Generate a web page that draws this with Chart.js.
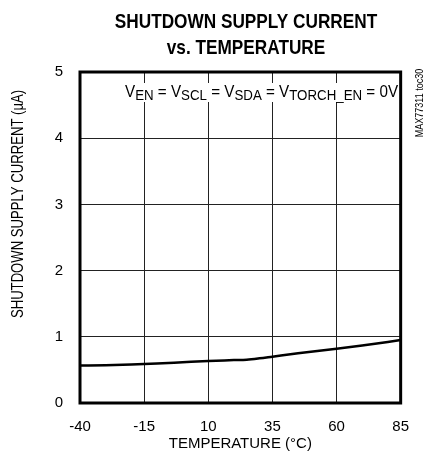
<!DOCTYPE html>
<html>
<head>
<meta charset="utf-8">
<script src="https://cdn.jsdelivr.net/npm/chart.js@4"></script>
<style>
  html, body { margin: 0; padding: 0; background: #fff; }
  #wrap { width: 424px; height: 463px; }
</style>
</head>
<body>
<div id="wrap"><canvas id="grafico" width="424" height="463"></canvas></div>
<script>
// dados
const temperaturas = [-40, -30, -20, -10, 0, 10, 20, 25, 30, 35, 45, 60, 70, 85];
const correntes = [0.565, 0.57, 0.58, 0.595, 0.615, 0.635, 0.648, 0.655, 0.675, 0.70, 0.75, 0.82, 0.87, 0.95];
const ticksX = [-40, -15, 10, 35, 60, 85];
const ticksY = [0, 1, 2, 3, 4, 5];
const titulo = ['SHUTDOWN SUPPLY CURRENT', 'vs. TEMPERATURE'];
const tituloX = 'TEMPERATURE (°C)';
const tituloY = 'SHUTDOWN SUPPLY CURRENT (µA)';
const codigo = 'MAX77311 toc30';
// partes da condicao de teste: [texto, subscrito?]
const condicao = [['V', false], ['EN', true], [' = V', false], ['SCL', true], [' = V', false], ['SDA', true],
                  [' = V', false], ['TORCH_EN', true], [' = 0V', false]];

const fonte = "'Liberation Sans', Arial, sans-serif";
const estreito = 0.82; // fator para imitar fonte "narrow"

// escreve texto comprimido na horizontal
function textoEstreito(ctx, txt, x, y, rot, fator) {
    ctx.save();
    ctx.translate(x, y);
    if (rot) ctx.rotate(rot);
    ctx.scale(fator || estreito, 1);
    ctx.fillText(txt, 0, 0);
    ctx.restore();
}

// plugin para titulo, textos extras e moldura grossa
const extras = {
    id: 'extras',
    afterDraw(chart) {
        const ctx = chart.ctx;
        const area = chart.chartArea;
        ctx.save();
        ctx.fillStyle = '#000';
        ctx.textBaseline = 'alphabetic';

        // titulo
        ctx.font = 'bold 21px ' + fonte;
        ctx.textAlign = 'center';
        const cx = 246;
        textoEstreito(ctx, titulo[0], cx, 28);
        textoEstreito(ctx, titulo[1], cx, 54);

        // titulo do eixo y
        ctx.font = '16px ' + fonte;
        textoEstreito(ctx, tituloY, 23, 204, -Math.PI / 2);

        // codigo lateral
        ctx.font = '10px ' + fonte;
        textoEstreito(ctx, codigo, 423, 103, -Math.PI / 2, 0.9);

        // condicao de teste com fundo branco
        const fc = 0.95;
        let larg = 0;
        condicao.forEach(p => {
            ctx.font = (p[1] ? '14px ' : '16px ') + fonte;
            larg += ctx.measureText(p[0]).width * fc;
        });
        const x0 = 125;
        const base = 97;
        ctx.fillStyle = '#fff';
        ctx.fillRect(x0 - 3, 83, larg + 6, 19);
        ctx.fillStyle = '#000';
        ctx.textAlign = 'left';
        let x = x0;
        condicao.forEach(p => {
            ctx.font = (p[1] ? '14px ' : '16px ') + fonte;
            textoEstreito(ctx, p[0], x, p[1] ? base + 3 : base, 0, fc);
            x += ctx.measureText(p[0]).width * fc;
        });

        // moldura
        ctx.strokeStyle = '#000';
        ctx.lineWidth = 3;
        ctx.strokeRect(area.left, area.top, area.right - area.left, area.bottom - area.top);
        ctx.restore();
    }
};

const ctx = document.getElementById('grafico').getContext('2d');
new Chart(ctx, {
    type: 'line',
    data: {
        datasets: [{
            data: temperaturas.map((t, i) => ({ x: t, y: correntes[i] })),
            borderColor: '#000',
            borderWidth: 2.5,
            pointRadius: 0,
            fill: false,
            cubicInterpolationMode: 'monotone'
        }]
    },
    options: {
        responsive: false,
        animation: false,
        layout: { padding: { top: 72, right: 12, left: 0, bottom: 0 } },
        plugins: { legend: { display: false }, tooltip: { enabled: false } },
        scales: {
            x: {
                type: 'linear',
                min: -40,
                max: 85,
                afterFit: s => { s.height = 60; },
                afterBuildTicks: s => { s.ticks = ticksX.map(v => ({ value: v })); },
                grid: { color: '#222', lineWidth: 1, drawTicks: false },
                border: { display: false },
                ticks: { color: '#000', padding: 15, font: { size: 15, family: fonte } },
                title: { display: true, text: tituloX, color: '#000', padding: { top: 0, bottom: 10 },
                         font: { size: 15, family: fonte } }
            },
            y: {
                min: 0,
                max: 5,
                afterFit: s => { s.width = 80; },
                afterBuildTicks: s => { s.ticks = ticksY.map(v => ({ value: v })); },
                grid: { color: '#222', lineWidth: 1, drawTicks: false },
                border: { display: false },
                ticks: { color: '#000', padding: 17, font: { size: 15, family: fonte } }
            }
        }
    },
    plugins: [extras]
});
</script>
</body>
</html>
